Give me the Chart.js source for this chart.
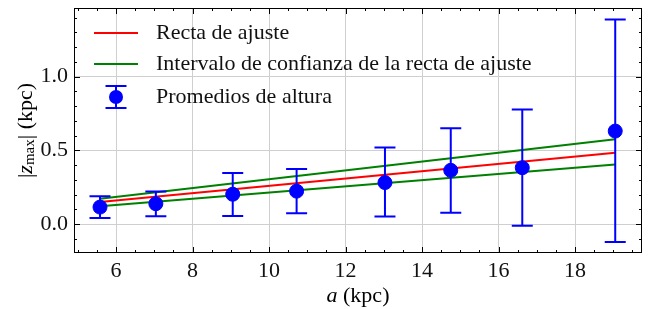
<!DOCTYPE html>
<html>
<head>
<meta charset="utf-8">
<script src="https://cdn.jsdelivr.net/npm/chart.js@4.4.0/dist/chart.umd.min.js"></script>
<style>
  html, body { margin: 0; padding: 0; background: #fff; }
  #wrap { width: 660px; height: 309px; }
</style>
</head>
<body>
<div id="wrap"><canvas id="c" width="660" height="309"></canvas></div>
<script>
// galactocentric radius (kpc) and mean |z_max| with error range
const radius = [5.58, 7.04, 9.05, 10.72, 13.03, 14.75, 16.62, 19.05];
const zMean = [0.116, 0.139, 0.203, 0.224, 0.282, 0.365, 0.383, 0.631];
const zLow = [0.042, 0.054, 0.056, 0.074, 0.052, 0.078, -0.011, -0.121];
const zHigh = [0.190, 0.221, 0.347, 0.374, 0.519, 0.651, 0.778, 1.387];

// fitted line and its confidence band, ends only
const fitX = [5.58, 19.05];
const fitY = [0.150, 0.485];
const bandUpper = [0.172, 0.575];
const bandLower = [0.121, 0.405];

const xTicks = [6, 8, 10, 12, 14, 16, 18];
const yTicks = [0, 0.5, 1.0];

const FONT = "'Liberation Serif', 'Times New Roman', serif";
const FS = 22;
const BLUE = "#0000ff";
const RED = "#ff0000";
const GREEN = "#008000";

const pts = (xs, ys) => xs.map((x, i) => ({ x: x, y: ys[i] }));

// error bars, drawn right before the blue points
const errorBars = {
	id: "errorBars",
	beforeDatasetDraw(chart, args) {
		if (args.index !== 3) return;
		const { ctx, scales } = chart;
		ctx.save();
		ctx.strokeStyle = BLUE;
		ctx.lineWidth = 2;
		radius.forEach((r, i) => {
			const px = scales.x.getPixelForValue(r);
			const lo = scales.y.getPixelForValue(zLow[i]);
			const hi = scales.y.getPixelForValue(zHigh[i]);
			ctx.beginPath();
			ctx.moveTo(px, lo); ctx.lineTo(px, hi);
			ctx.moveTo(px - 10.5, lo); ctx.lineTo(px + 10.5, lo);
			ctx.moveTo(px - 10.5, hi); ctx.lineTo(px + 10.5, hi);
			ctx.stroke();
		});
		ctx.restore();
	},
};

// frame, inward ticks on every side, axis titles and legend
const decor = {
	id: "decor",
	afterDraw(chart) {
		const { ctx, chartArea: a, scales } = chart;
		const X = scales.x, Y = scales.y;
		ctx.save();
		ctx.strokeStyle = "#000";
		ctx.lineWidth = 1;
		ctx.strokeRect(a.left + 0.5, a.top + 0.5, a.right - a.left - 1, a.bottom - a.top - 1);

		ctx.beginPath();
		for (let v = 5; v <= 19.75; v += 0.5) {
			const px = Math.round(X.getPixelForValue(v)) + 0.5;
			if (px < a.left || px > a.right) continue;
			const len = v % 2 === 0 ? 6 : 3;
			ctx.moveTo(px, a.bottom); ctx.lineTo(px, a.bottom - len);
			ctx.moveTo(px, a.top); ctx.lineTo(px, a.top + len);
		}
		for (let k = -1; k <= 14; k++) {
			const v = k / 10;
			const py = Math.round(Y.getPixelForValue(v)) + 0.5;
			if (py < a.top || py > a.bottom) continue;
			const len = k % 5 === 0 ? 6 : 3;
			ctx.moveTo(a.left, py); ctx.lineTo(a.left + len, py);
			ctx.moveTo(a.right, py); ctx.lineTo(a.right - len, py);
		}
		ctx.stroke();

		// x title: a (kpc)
		ctx.fillStyle = "#000";
		ctx.textBaseline = "middle";
		const cx = (a.left + a.right) / 2;
		ctx.font = "italic " + FS + "px " + FONT;
		const wa = ctx.measureText("a").width;
		ctx.font = FS + "px " + FONT;
		const wk = ctx.measureText(" (kpc)").width;
		let x0 = cx - (wa + wk) / 2;
		ctx.font = "italic " + FS + "px " + FONT;
		ctx.textAlign = "left";
		ctx.fillText("a", x0, 296);
		ctx.font = FS + "px " + FONT;
		ctx.fillText(" (kpc)", x0 + wa, 296);

		// y title: |z_max| (kpc)
		const parts = [
			{ t: "|", f: FS + "px " + FONT, dy: 0 },
			{ t: "z", f: "italic " + FS + "px " + FONT, dy: 0 },
			{ t: "max", f: "15px " + FONT, dy: 4 },
			{ t: "| (kpc)", f: FS + "px " + FONT, dy: 0 },
		];
		let total = 0;
		parts.forEach(p => { ctx.font = p.f; p.w = ctx.measureText(p.t).width; total += p.w; });
		ctx.translate(26, (a.top + a.bottom) / 2);
		ctx.rotate(-Math.PI / 2);
		let xx = -total / 2;
		parts.forEach(p => { ctx.font = p.f; ctx.fillText(p.t, xx, p.dy); xx += p.w; });
		ctx.setTransform(1, 0, 0, 1, 0, 0);

		// legend
		const ds = chart.data.datasets;
		const rows = [
			{ label: ds[0].label, y: 33, kind: "line", color: RED },
			{ label: ds[1].label, y: 64, kind: "line", color: GREEN },
			{ label: ds[3].label, y: 97, kind: "err", color: BLUE },
		];
		rows.forEach(r => {
			ctx.strokeStyle = r.color;
			if (r.kind === "line") {
				ctx.lineWidth = 2;
				ctx.beginPath(); ctx.moveTo(94, r.y); ctx.lineTo(138, r.y); ctx.stroke();
			} else {
				ctx.lineWidth = 2;
				ctx.beginPath();
				ctx.moveTo(116, r.y - 11); ctx.lineTo(116, r.y + 11);
				ctx.moveTo(105.5, r.y - 11); ctx.lineTo(126.5, r.y - 11);
				ctx.moveTo(105.5, r.y + 11); ctx.lineTo(126.5, r.y + 11);
				ctx.stroke();
				ctx.fillStyle = BLUE;
				ctx.beginPath(); ctx.arc(116, r.y, 7, 0, Math.PI * 2); ctx.fill();
			}
			ctx.fillStyle = "#111";
			ctx.font = FS + "px " + FONT;
			ctx.textAlign = "left";
			ctx.fillText(r.label, 156, r.y);
		});
		ctx.restore();
	},
};

new Chart(document.getElementById("c"), {
	type: "scatter",
	data: {
		datasets: [
			{
				type: "line",
				label: "Recta de ajuste",
				data: pts(fitX, fitY),
				borderColor: RED,
				borderWidth: 2,
				pointRadius: 0,
				order: 1,
			},
			{
				type: "line",
				label: "Intervalo de confianza de la recta de ajuste",
				data: pts(fitX, bandUpper),
				borderColor: GREEN,
				borderWidth: 2,
				pointRadius: 0,
				order: 2,
			},
			{
				type: "line",
				label: "Intervalo de confianza (inferior)",
				data: pts(fitX, bandLower),
				borderColor: GREEN,
				borderWidth: 2,
				pointRadius: 0,
				order: 2,
			},
			{
				label: "Promedios de altura",
				data: pts(radius, zMean),
				backgroundColor: BLUE,
				borderColor: BLUE,
				pointRadius: 7,
				order: 0,
			},
		],
	},
	options: {
		responsive: false,
		animation: false,
		maintainAspectRatio: false,
		layout: { padding: { top: 6, right: 18, left: 0, bottom: 0 } },
		plugins: {
			legend: { display: false },
			tooltip: { enabled: false },
		},
		scales: {
			x: {
				type: "linear",
				min: 4.9,
				max: 19.75,
				afterBuildTicks: s => { s.ticks = xTicks.map(v => ({ value: v })); },
				afterFit: s => { s.height = 56; s.paddingLeft = 0; s.paddingRight = 0; },
				grid: { color: "#cfcfcf", lineWidth: 1, drawTicks: false },
				border: { display: false },
				ticks: { color: "#111", font: { family: FONT, size: FS }, padding: 5 },
			},
			y: {
				type: "linear",
				min: -0.195,
				max: 1.465,
				afterBuildTicks: s => { s.ticks = yTicks.map(v => ({ value: v })); },
				afterFit: s => { s.width = 74; s.paddingTop = 0; s.paddingBottom = 0; },
				grid: { color: "#cfcfcf", lineWidth: 1, drawTicks: false },
				border: { display: false },
				ticks: {
					color: "#111",
					font: { family: FONT, size: FS },
					padding: 6,
					callback: v => v.toFixed(1),
				},
			},
		},
	},
	plugins: [errorBars, decor],
});
</script>
</body>
</html>
